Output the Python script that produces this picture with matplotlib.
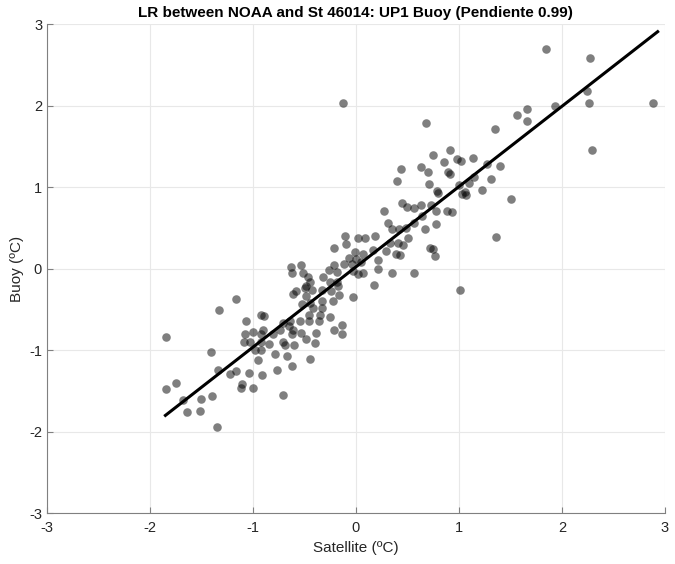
import matplotlib
matplotlib.use("Agg")
import matplotlib.pyplot as plt
import numpy as np

plt.rcParams['font.family'] = ['Liberation Sans', 'DejaVu Sans']
plt.rcParams['axes.unicode_minus'] = False

# satellite anomaly (x) and buoy anomaly (y)
sat = [-1.84, -1.41, -1.34, -1.22, -1.16, -1.84, -1.75, -1.68, -1.50, -1.40,
       -1.64, -1.51, -1.35, -1.33, -1.16, -1.11, -1.12, -1.04, -1.00, -0.91,
       -0.95, -0.98, -0.92, -1.09, -1.03, -0.92, -1.08, -1.00, -0.92, -0.90,
       -1.07, -0.92, -0.89, -0.84, -0.81, -0.74, -0.71, -0.65, -0.61, -0.62,
       -0.71, -0.69, -0.60, -0.79, -0.67, -0.77, -0.62, -0.71, -0.64, -0.54,
       -0.53, -0.48, -0.62, -0.63, -0.53, -0.51, -0.47, -0.45, -0.48, -0.58,
       -0.61, -0.49, -0.48, -0.43, -0.52, -0.45, -0.42, -0.33, -0.33, -0.46,
       -0.35, -0.46, -0.36, -0.25, -0.14, -0.14, -0.21, -0.39, -0.40, -0.45,
       -0.32, -0.26, -0.21, -0.33, -0.24, -0.17, -0.16, -0.22, -0.18, -0.25,
       -0.03, -0.18, -0.12, -0.04, -0.07, 0.00, 0.05, -0.01, 0.07, -0.10,
       -0.21, -0.11, 0.02, 0.09, 0.19, 0.17, 0.07, 0.02, -0.03, 0.21,
       0.18, 0.35, 0.56, 0.21, 0.29, 0.33, 0.41, 0.46, 0.39, 0.43,
       0.51, 0.35, 0.42, 0.49, 0.31, 0.56, 0.27, 0.64, 0.67, 0.78,
       0.72, 0.75, 0.77, 0.45, 0.50, 0.56, 0.63, 0.73, 0.78, 0.88,
       0.93, 0.40, 0.44, 0.63, 0.70, 0.71, 0.79, 0.80, 0.75, 0.86,
       0.91, 0.98, 1.02, 0.89, 0.91, 1.00, 1.10, 1.15, 1.31, 1.22,
       1.03, 1.07, 1.06, 1.14, 1.27, 1.40, 1.51, 1.36, 0.68, 1.35,
       1.56, 1.66, 1.66, 1.93, 1.85, 2.27, 2.24, 2.26, 2.88, 2.29,
       -0.13, 1.01]
buoy = [-0.84, -1.02, -1.24, -1.29, -1.26, -1.48, -1.40, -1.61, -1.60, -1.56,
        -1.76, -1.75, -1.94, -0.51, -0.38, -1.42, -1.46, -1.28, -1.46, -1.31,
        -1.12, -1.00, -1.00, -0.90, -0.90, -0.90, -0.80, -0.78, -0.80, -0.75,
        -0.65, -0.57, -0.58, -0.93, -0.80, -0.75, -0.67, -0.71, -0.75, -0.80,
        -0.90, -0.94, -0.94, -1.05, -1.07, -1.25, -1.20, -1.55, -0.65, -0.65,
        -0.79, -0.86, -0.06, 0.02, 0.04, -0.06, -0.11, -0.16, -0.21, -0.28,
        -0.31, -0.24, -0.34, -0.26, -0.43, -0.42, -0.48, -0.40, -0.49, -0.57,
        -0.57, -0.65, -0.65, -0.59, -0.69, -0.80, -0.76, -0.79, -0.92, -1.11,
        -0.11, -0.02, 0.04, -0.26, -0.28, -0.22, -0.33, -0.40, -0.16, -0.17,
        -0.35, -0.04, 0.05, 0.06, 0.13, 0.12, 0.08, 0.20, 0.18, 0.30,
        0.25, 0.40, 0.38, 0.38, 0.40, 0.23, -0.06, -0.07, -0.03, 0.00,
        -0.20, -0.05, -0.05, 0.11, 0.21, 0.31, 0.31, 0.29, 0.18, 0.17,
        0.38, 0.48, 0.49, 0.50, 0.56, 0.56, 0.71, 0.65, 0.49, 0.55,
        0.25, 0.24, 0.15, 0.80, 0.76, 0.74, 0.78, 0.78, 0.71, 0.71,
        0.69, 1.07, 1.22, 1.25, 1.19, 1.04, 0.95, 0.93, 1.39, 1.31,
        1.46, 1.34, 1.32, 1.18, 1.16, 1.02, 1.05, 1.12, 1.10, 0.96,
        0.91, 0.90, 0.94, 1.36, 1.28, 1.26, 0.85, 0.39, 1.78, 1.71,
        1.88, 1.81, 1.96, 2.00, 2.69, 2.58, 2.18, 2.03, 2.03, 1.46,
        2.03, -0.26]

# regression line (Pendiente 0.99)
slope = 0.985
intercept = 0.02
fit_x = [-1.85, 2.93]

fig = plt.figure(figsize=(6.75, 5.64), dpi=100)
ax = fig.add_axes([0.0696, 0.0904, 0.9154, 0.867])

ax.scatter(sat, buoy, s=38, color='black', alpha=0.5, linewidths=0, zorder=3)
fx = np.array(fit_x)
ax.plot(fx, slope * fx + intercept, color='black', lw=2.2, zorder=4)

ax.set_xlim(-3, 3)
ax.set_ylim(-3, 3)
ax.set_xticks(range(-3, 4))
ax.set_yticks(range(-3, 4))
ax.grid(True, color='#e8e8e8', lw=0.8, zorder=0)
ax.set_axisbelow(True)
for s in ['top', 'right']:
    ax.spines[s].set_visible(False)
for s in ['left', 'bottom']:
    ax.spines[s].set_color('#808080')
    ax.spines[s].set_linewidth(0.8)
ax.tick_params(direction='in', length=4, width=0.8, color='#808080',
               labelsize=10.5, labelcolor='#262626')
ax.tick_params(axis='x', pad=6)

ax.set_xlabel('Satellite (ºC)', fontsize=11, color='#262626', labelpad=4)
ax.set_ylabel('Buoy (ºC)', fontsize=11, color='#262626', labelpad=4)
ax.set_title('LR between NOAA and St 46014: UP1 Buoy (Pendiente 0.99)',
             fontsize=11, fontweight='bold', color='black', pad=5)

fig.savefig('out.png', dpi=100)
